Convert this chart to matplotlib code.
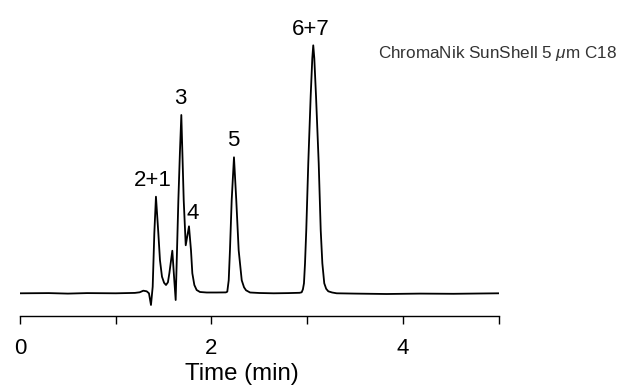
import matplotlib
matplotlib.use("Agg")
import matplotlib.pyplot as plt

plt.rcParams['font.family'] = ['Liberation Sans', 'DejaVu Sans']
plt.rcParams['mathtext.fontset'] = 'custom'
plt.rcParams['mathtext.rm'] = 'Liberation Sans'
plt.rcParams['mathtext.it'] = 'Liberation Sans:italic'

# Chromatogram trace: time (min) and detector signal (arbitrary units)
time = [0.00, 0.30, 0.50, 0.70, 1.00, 1.20, 1.25, 1.288, 1.323, 1.347, 1.368, 1.386,
        1.403, 1.420, 1.445, 1.462, 1.483, 1.505, 1.525, 1.545, 1.560, 1.591, 1.609,
        1.626, 1.640, 1.654, 1.670, 1.685, 1.710, 1.731, 1.765, 1.786, 1.800, 1.821,
        1.845, 1.880, 1.950, 2.050, 2.150, 2.165, 2.180, 2.193, 2.211, 2.235, 2.259,
        2.284, 2.316, 2.340, 2.361, 2.403, 2.500, 2.650, 2.800, 2.920, 2.942, 2.955,
        2.966, 2.977, 2.990, 3.011, 3.036, 3.053, 3.063, 3.074, 3.092, 3.120, 3.141,
        3.158, 3.178, 3.198, 3.220, 3.260, 3.308, 3.500, 3.830, 4.180, 4.526, 4.800,
        5.000]
signal = [0.0, 0.2, -0.3, 0.2, 0.0, 0.4, 1.0, 2.6, 2.0, 0.0, -11.7, 6.6,
          60.0, 96.6, 60.0, 33.0, 16.6, 10.5, 8.3, 11.0, 20.0, 42.6, 16.6,
          -6.7, 43.0, 93.0, 140.0, 178.3, 93.0, 48.0, 67.0, 43.0, 20.0, 8.3,
          3.3, 1.3, 0.8, 0.8, 0.9, 1.6, 13.0, 43.0, 93.0, 136.0, 93.0,
          43.0, 13.0, 6.0, 3.0, 0.8, 0.3, 0.0, 0.2, 0.5, 1.0, 4.0,
          10.0, 30.0, 63.0, 130.0, 197.0, 235.0, 248.0, 235.0, 197.0, 130.0, 63.0,
          30.0, 10.0, 4.5, 2.0, 0.8, 0.0, -0.3, -0.7, -0.3, -0.5, -0.2,
          0.0]

# Peak labels: text, time position, signal position (baseline of text)
peak_labels = ["2+1", "3", "4", "5", "6+7"]
peak_label_t = [1.386, 1.671, 1.800, 2.228, 3.040]
peak_label_h = [107.6, 189.3, 74.3, 147.3, 258.3]

x_ticks = [0, 1, 2, 3, 4, 5]
x_tick_labels = ["0", "", "2", "", "4", ""]

fig = plt.figure(figsize=(6.32, 3.87), dpi=100)
ax = fig.add_axes([20/632, (387-316)/387, 478.7/632, 296/387])

ax.plot(time, signal, color='black', lw=1.3, solid_joinstyle='round')

for lab, t, h in zip(peak_labels, peak_label_t, peak_label_h):
    ax.text(t, h, lab, ha='center', va='baseline', fontsize=16, color='black')

ax.set_xlim(0, 5)
ax.set_ylim(-22.7, 273.3)
ax.set_xticks(x_ticks)
ax.set_xticklabels(x_tick_labels)
ax.set_yticks([])
for s in ['top', 'right', 'left']:
    ax.spines[s].set_visible(False)
ax.spines['bottom'].set_linewidth(1.0)
ax.tick_params(axis='x', direction='out', length=5.5, width=1.0, pad=10, labelsize=16)
ax.set_xlabel("Time (min)", fontsize=17.3)
ax.xaxis.set_label_coords(0.463, -0.158)

fig.text(378.3/632, (387-58.3)/387, r"ChromaNik SunShell 5 $\mu$m C18",
         ha='left', va='baseline', fontsize=12.3, color='#333333')

fig.savefig("out.png", dpi=100)
